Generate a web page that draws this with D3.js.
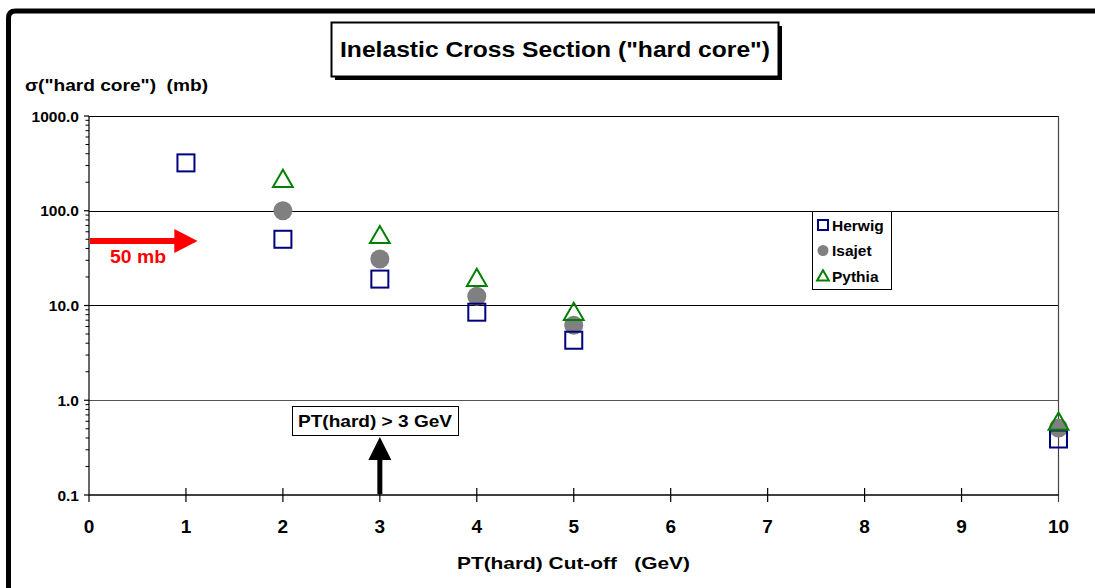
<!DOCTYPE html>
<html>
<head>
<meta charset="utf-8">
<script src="https://cdn.jsdelivr.net/npm/d3@7"></script>
<style>
  body { margin: 0; background: #fff; overflow: hidden; }
  svg { display: block; font-family: Arial, "Liberation Sans", sans-serif; font-weight: bold; }
  text { white-space: pre; }
</style>
</head>
<body>
<svg width="1095" height="588"></svg>
<script>
// cut-off values (GeV) where the generators were run
const cutoffs = [1, 2, 3, 4, 5, 10];
const herwig = [320, 50, 19, 8.5, 4.3, 0.39];
const isajet = [null, 100, 31, 12.5, 6.2, 0.51];
const pythia = [null, 215, 55, 19.4, 8.5, 0.59];

const xTicks = [0, 1, 2, 3, 4, 5, 6, 7, 8, 9, 10];
const yTicks = [0.1, 1, 10, 100, 1000];
const seriesNames = ["Herwig", "Isajet", "Pythia"];

const svg = d3.select("svg");

const plot = { left: 89, right: 1058.5, top: 116, bottom: 495 };

const x = d3.scaleLinear().domain([0, 10]).range([plot.left, plot.right]);
const y = d3.scaleLog().domain([0.1, 1000]).range([plot.bottom, plot.top]);

// stretch text to the width it has in the original slide
function fit(sel, w) {
    return sel.attr("textLength", w).attr("lengthAdjust", "spacingAndGlyphs");
}

// outer frame of the slide (only top and left visible)
svg.append("path")
    .attr("d", "M8.5,600 L8.5,18 Q8.5,11 15.5,11 L1095,11")
    .attr("fill", "none")
    .attr("stroke", "#000")
    .attr("stroke-width", 5);

// title box with drop shadow
svg.append("rect").attr("x", 335).attr("y", 26).attr("width", 447).attr("height", 54).attr("fill", "#000");
svg.append("rect").attr("x", 331.5).attr("y", 22.5).attr("width", 447).attr("height", 54)
    .attr("fill", "#fff").attr("stroke", "#000").attr("stroke-width", 2);
fit(svg.append("text").attr("x", 340).attr("y", 57)
    .attr("font-size", 22).text("Inelastic Cross Section (\"hard core\")"), 430);

// y axis title
fit(svg.append("text").attr("x", 25).attr("y", 91).attr("font-size", 16)
    .text("σ(\"hard core\")  (mb)"), 183);

// horizontal gridlines
svg.append("g").selectAll("line")
    .data(yTicks.slice(1))
    .join("line")
    .attr("x1", plot.left).attr("x2", plot.right)
    .attr("y1", d => Math.round(y(d)) + 0.5).attr("y2", d => Math.round(y(d)) + 0.5)
    .attr("stroke", (d, i) => i === 0 ? "#555" : "#000")
    .attr("stroke-width", 1);

// right border of plot area
svg.append("line")
    .attr("x1", plot.right).attr("x2", plot.right)
    .attr("y1", plot.top).attr("y2", plot.bottom + 7)
    .attr("stroke", "#444").attr("stroke-width", 1.2);

// y axis with log minor ticks
const minor = [];
for (let d = 0.1; d < 1000; d *= 10) {
    for (let k = 2; k <= 9; k++) minor.push(d * k);
}
const yAxis = svg.append("g").attr("transform", `translate(${plot.left},0)`);
yAxis.append("line").attr("x1", 0).attr("x2", 0).attr("y1", plot.top).attr("y2", plot.bottom + 7)
    .attr("stroke", "#000").attr("stroke-width", 1.2);
yAxis.selectAll(".minor").data(minor).join("line")
    .attr("class", "minor")
    .attr("x1", -3.5).attr("x2", 0)
    .attr("y1", d => y(d)).attr("y2", d => y(d))
    .attr("stroke", "#000").attr("stroke-width", 1);
yAxis.selectAll(".major").data(yTicks).join("line")
    .attr("class", "major")
    .attr("x1", -5).attr("x2", 0)
    .attr("y1", d => y(d)).attr("y2", d => y(d))
    .attr("stroke", "#000").attr("stroke-width", 1.2);
yAxis.selectAll("text").data(yTicks).join("text")
    .attr("x", -10).attr("y", d => y(d) + 5.5)
    .attr("text-anchor", "end").attr("font-size", 15.5)
    .text(d3.format(".1f"));

// x axis
const xAxis = svg.append("g").attr("transform", `translate(0,${plot.bottom})`);
xAxis.append("line").attr("x1", plot.left).attr("x2", plot.right).attr("y1", 0).attr("y2", 0)
    .attr("stroke", "#000").attr("stroke-width", 1.5);
xAxis.selectAll(".tick").data(xTicks.slice(1, -1)).join("line")
    .attr("class", "tick")
    .attr("x1", d => x(d)).attr("x2", d => x(d))
    .attr("y1", -7).attr("y2", 7)
    .attr("stroke", "#000").attr("stroke-width", 1.2);
xAxis.selectAll("text").data(xTicks).join("text")
    .attr("x", d => x(d)).attr("y", 38)
    .attr("text-anchor", "middle").attr("font-size", 19)
    .text(d => d);

fit(svg.append("text").attr("x", 457).attr("y", 569)
    .attr("font-size", 17).text("PT(hard) Cut-off   (GeV)"), 233);

// markers
const pts = s => cutoffs.map((c, i) => ({ c, v: s[i] })).filter(d => d.v != null);

const sq = 17, tri = d3.symbol().type(d3.symbolTriangle).size(170);

svg.append("g").selectAll("circle").data(pts(isajet)).join("circle")
    .attr("cx", d => x(d.c)).attr("cy", d => y(d.v)).attr("r", 9.5)
    .attr("fill", "#808080");

svg.append("g").selectAll("rect").data(pts(herwig)).join("rect")
    .attr("x", d => x(d.c) - sq / 2).attr("y", d => y(d.v) - sq / 2)
    .attr("width", sq).attr("height", sq)
    .attr("fill", "none").attr("stroke", "#000080").attr("stroke-width", 2);

svg.append("g").selectAll("path").data(pts(pythia)).join("path")
    .attr("transform", d => `translate(${x(d.c)},${y(d.v) + 2})`)
    .attr("d", tri)
    .attr("fill", "none").attr("stroke", "#008000").attr("stroke-width", 2);

// legend
const lg = svg.append("g").attr("transform", "translate(812,211)");
lg.append("rect").attr("x", 0.5).attr("y", 0.5).attr("width", 79).attr("height", 78)
    .attr("fill", "#fff").attr("stroke", "#000").attr("stroke-width", 1);
const items = lg.selectAll("g").data(seriesNames).join("g")
    .attr("transform", (d, i) => `translate(11,${14 + i * 25.5})`);
items.filter((d, i) => i === 0).append("rect")
    .attr("x", -5).attr("y", -5).attr("width", 10).attr("height", 10)
    .attr("fill", "none").attr("stroke", "#000080").attr("stroke-width", 2);
items.filter((d, i) => i === 1).append("circle").attr("r", 5.5).attr("fill", "#808080");
items.filter((d, i) => i === 2).append("path")
    .attr("d", d3.symbol().type(d3.symbolTriangle).size(60)).attr("transform", "translate(0,1)")
    .attr("fill", "none").attr("stroke", "#008000").attr("stroke-width", 2);
items.append("text").attr("x", 9).attr("y", 5.5).attr("font-size", 15.5).text(d => d);

// red "50 mb" arrow
const ya = y(48);
svg.append("path")
    .attr("d", `M${x(0) + 1},${ya - 3} L${x(0.88)},${ya - 3} L${x(0.88)},${ya - 12} L${x(1.12)},${ya} L${x(0.88)},${ya + 12} L${x(0.88)},${ya + 3} L${x(0) + 1},${ya + 3} Z`)
    .attr("fill", "#ff0000");
fit(svg.append("text").attr("x", 110).attr("y", 263).attr("font-size", 18).attr("fill", "#ff0000")
    .text("50 mb"), 56);

// black arrow and cut annotation
const xa = x(3);
svg.append("path")
    .attr("d", `M${xa - 2.5},${plot.bottom - 1} L${xa - 2.5},460 L${xa - 11.5},460 L${xa},437 L${xa + 11.5},460 L${xa + 2.5},460 L${xa + 2.5},${plot.bottom - 1} Z`)
    .attr("fill", "#000");
svg.append("rect").attr("x", 292.5).attr("y", 406.5).attr("width", 166).attr("height", 29)
    .attr("fill", "#fff").attr("stroke", "#000").attr("stroke-width", 1);
fit(svg.append("text").attr("x", 298).attr("y", 427)
    .attr("font-size", 17).text("PT(hard) > 3 GeV"), 154);
</script>
</body>
</html>
